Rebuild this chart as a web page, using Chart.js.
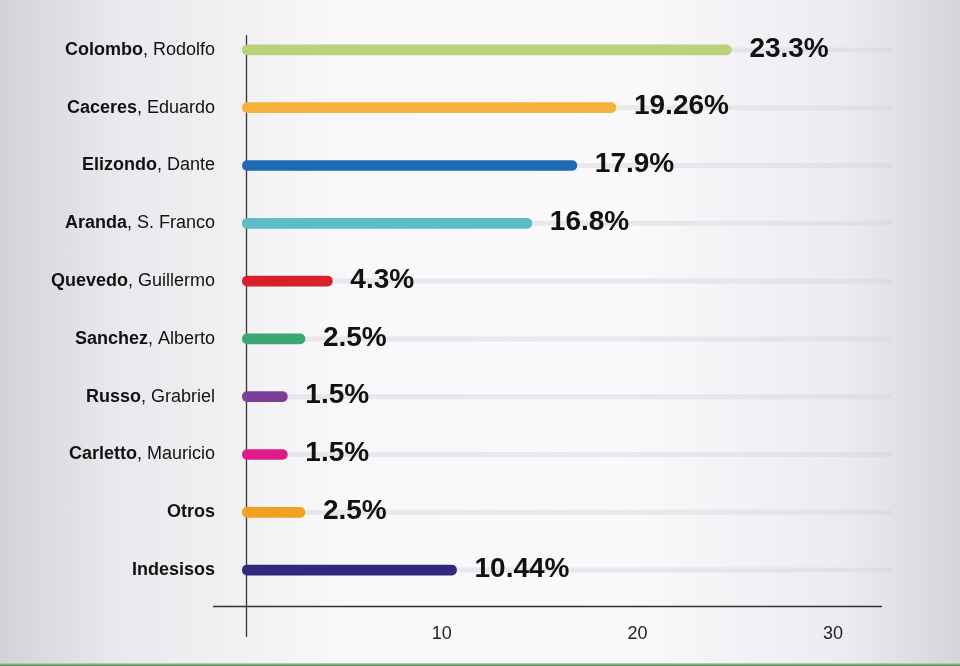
<!DOCTYPE html>
<html>
<head>
<meta charset="utf-8">
<script src="https://cdn.jsdelivr.net/npm/chart.js@4"></script>
<style>
  html, body { margin: 0; padding: 0; }
  body {
    width: 960px; height: 666px; overflow: hidden; position: relative;
    background: linear-gradient(90deg, #d4d2d7 0%, #e9e8ec 12%, #f8f7f9 35%, #faf9fb 65%, #eeebf0 88%, #d6d3da 100%);
  }
  #wrap { position: absolute; left: 0; top: 0; width: 960px; height: 663px; }
  #strip { position: absolute; left: 0; bottom: 0; width: 960px; height: 3px;
    background: linear-gradient(180deg, #b8e6b2 0%, #3d7d3d 100%); }
</style>
</head>
<body>
<div id="wrap"><canvas id="chart"></canvas></div>
<div id="strip"></div>
<script>
// candidates: bold surname + regular given name
var surnames = ['Colombo', 'Caceres', 'Elizondo', 'Aranda', 'Quevedo', 'Sanchez', 'Russo', 'Carletto', 'Otros', 'Indesisos'];
var givenNames = ['Rodolfo', 'Eduardo', 'Dante', 'S. Franco', 'Guillermo', 'Alberto', 'Grabriel', 'Mauricio', '', ''];
// printed percentages
var shares = [23.3, 19.26, 17.9, 16.8, 4.3, 2.5, 1.5, 1.5, 2.5, 10.44];
// bar lengths as drawn in the graphic (they don't follow the printed numbers exactly)
var barLengths = [24.8, 18.9, 16.9, 14.6, 4.4, 3.0, 2.1, 2.1, 3.0, 10.75];
var barColors = ['#bad27c', '#f6b23f', '#1e6bb3', '#5cbdc7', '#d8202b', '#3ba874', '#7c3f98', '#df1a89', '#f2a01f', '#2f2a7c'];
var xTicks = [10, 20, 30];

var sansFont = '"Liberation Sans", Arial, Helvetica, sans-serif';

var decorPlugin = {
    id: 'decor',
    beforeDatasetsDraw: function (chart) {
        var ctx = chart.ctx, xs = chart.scales.x, ys = chart.scales.y, area = chart.chartArea;
        ctx.save();
        // faint tracks behind the bars
        ctx.lineCap = 'round';
        ctx.lineWidth = 5;
        ctx.strokeStyle = 'rgba(214,210,220,0.45)';
        surnames.forEach(function (s, i) {
            var y = ys.getPixelForValue(i);
            ctx.beginPath();
            ctx.moveTo(xs.getPixelForValue(barLengths[i]), y);
            ctx.lineTo(area.right + 7, y);
            ctx.stroke();
        });
        // axis lines
        ctx.lineCap = 'butt';
        ctx.lineWidth = 1.3;
        ctx.strokeStyle = '#333';
        var x0 = Math.round(xs.getPixelForValue(0)) + 0.5;
        ctx.beginPath();
        ctx.moveTo(x0, area.top + 14);
        ctx.lineTo(x0, area.bottom + 38);
        ctx.moveTo(area.left, area.bottom + 7.5);
        ctx.lineTo(area.right, area.bottom + 7.5);
        ctx.stroke();
        ctx.restore();
    },
    afterDatasetsDraw: function (chart) {
        var ctx = chart.ctx, xs = chart.scales.x, ys = chart.scales.y, area = chart.chartArea;
        ctx.save();
        ctx.textBaseline = 'middle';
        surnames.forEach(function (s, i) {
            var y = ys.getPixelForValue(i);
            // category label
            var rest = givenNames[i] ? ', ' + givenNames[i] : '';
            ctx.font = 'bold 18px ' + sansFont;
            var wBold = ctx.measureText(s).width;
            ctx.font = '18px ' + sansFont;
            var wRest = ctx.measureText(rest).width;
            var right = area.left + 2;
            ctx.fillStyle = '#111';
            ctx.textAlign = 'left';
            ctx.font = 'bold 18px ' + sansFont;
            ctx.fillText(s, right - wBold - wRest, y);
            ctx.font = '18px ' + sansFont;
            ctx.fillText(rest, right - wRest, y);
            // value label
            ctx.font = 'bold 28px ' + sansFont;
            ctx.fillText(shares[i] + '%', xs.getPixelForValue(barLengths[i]) + 18, y - 1);
        });
        ctx.restore();
    }
};

new Chart(document.getElementById('chart'), {
    type: 'bar',
    data: {
        labels: surnames,
        datasets: [{
            data: barLengths,
            base: -0.2,
            backgroundColor: barColors,
            barThickness: 10,
            borderRadius: 5,
            borderSkipped: false
        }]
    },
    options: {
        indexAxis: 'y',
        responsive: true,
        maintainAspectRatio: false,
        animation: false,
        layout: { padding: { left: 213, right: 78, top: 21, bottom: 0 } },
        plugins: { legend: { display: false }, tooltip: { enabled: false } },
        scales: {
            x: {
                type: 'linear',
                min: -1.7,
                max: 32.5,
                afterBuildTicks: function (scale) {
                    scale.ticks = xTicks.map(function (v) { return { value: v }; });
                },
                afterFit: function (scale) {
                    scale.height = 64;
                },
                grid: { display: false, drawTicks: false },
                border: { display: false },
                ticks: {
                    padding: 24,
                    color: '#222',
                    font: { family: sansFont, size: 18 }
                }
            },
            y: {
                display: false
            }
        }
    },
    plugins: [decorPlugin]
});
</script>
</body>
</html>
